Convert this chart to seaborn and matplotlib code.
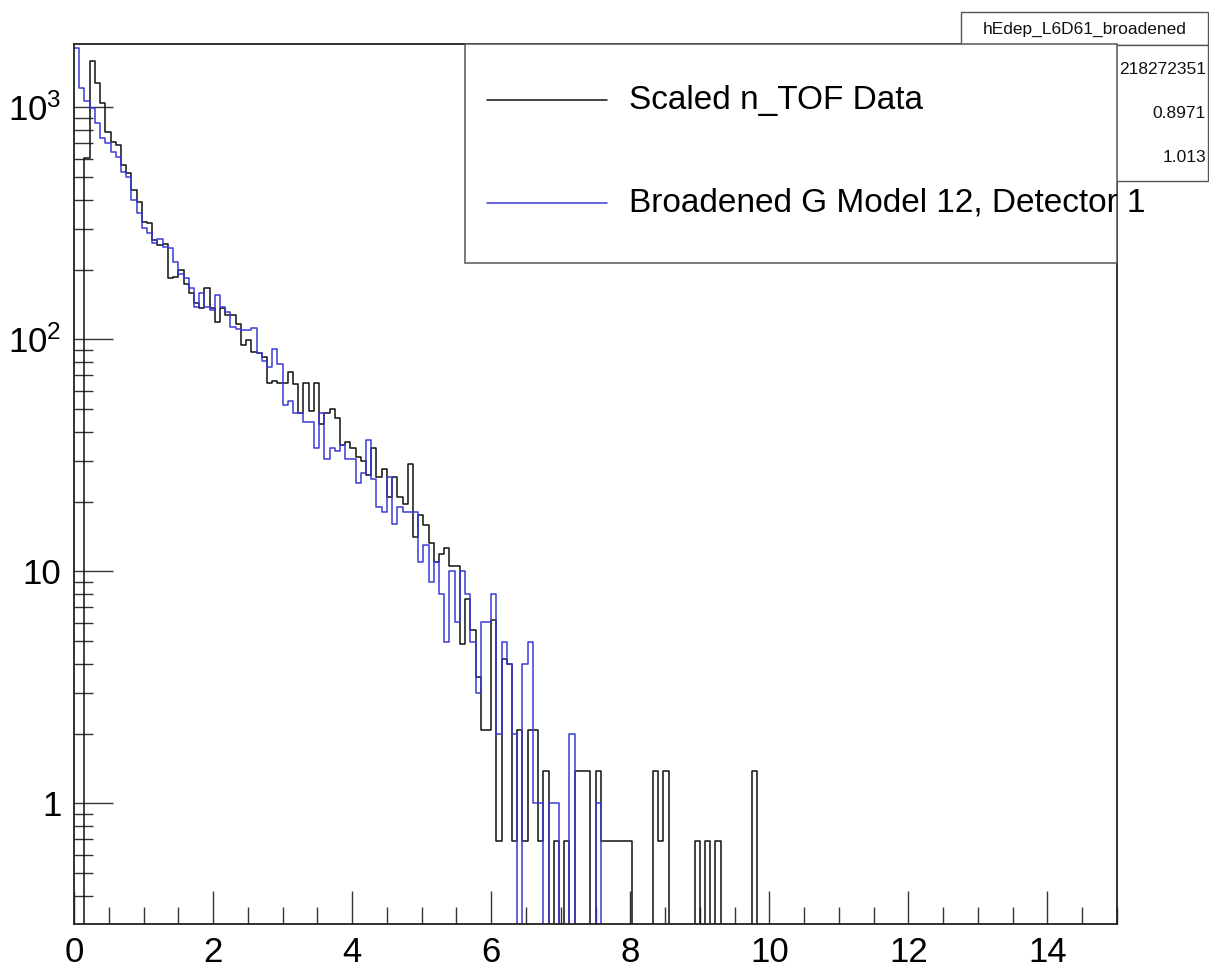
import numpy as np
import pandas as pd
import matplotlib
matplotlib.use("Agg")
import matplotlib.pyplot as plt
import seaborn as sns
from matplotlib.patches import Rectangle
from matplotlib.lines import Line2D
from matplotlib.ticker import FixedLocator, MultipleLocator, LogLocator, NullFormatter, FuncFormatter

# ---------------- data (bin contents, 0.075-wide bins starting at 0) ----------------
bin_lo = 0.0
bin_hi = 15.0
n_bins = 200

data_counts = [
    0, 0, 603, 1586, 1277, 1040, 785, 711, 687, 564,
    519, 440, 392, 321, 318, 268, 255, 257, 183, 185,
    199, 174, 158, 143, 136, 166, 136, 119, 136, 127,
    127, 117, 95, 99, 88, 87, 84, 65, 66, 65,
    65, 72, 64, 48, 65, 49, 65, 43, 48, 50,
    46, 35, 36, 34, 31, 30, 26, 34, 25.5, 27.5,
    21, 25.6, 21, 19.5, 29, 14.1, 17.5, 15.9, 13.2, 11.0,
    11.9, 12.6, 10.5, 10.5, 4.86, 7.6, 5.6, 3.5, 2.07, 2.07,
    6.2, 0.69, 4.2, 4.0, 0.69, 2.07, 0.69, 2.07, 2.07, 0.69,
    1.38, 0, 0.69, 0, 0.69, 0, 1.38, 1.38, 1.38, 0,
    1.38, 0.69, 0.69, 0.69, 0.69, 0.69, 0.69, 0, 0, 0,
    0, 1.38, 0.69, 1.38, 0, 0, 0, 0, 0, 0.69,
    0, 0.69, 0, 0.69, 0, 0, 0, 0, 0, 0,
    1.38,
]

model_counts = [
    1795, 1208, 1064, 991, 853, 735, 700, 644, 612, 527,
    502, 398, 349, 301, 288, 259, 272, 251, 247, 216,
    192, 183, 166, 138, 158, 138, 134, 155, 138, 131,
    113, 111, 110, 110, 112, 87, 81, 76, 91, 78,
    52, 54, 48, 48, 44, 44, 34, 48, 30.5, 34,
    33, 35, 30.5, 30.5, 24, 26.5, 37, 25, 19, 18,
    25.6, 16, 19, 18, 18, 18, 11.0, 13, 9.0, 11.0,
    8.0, 4.97, 10.0, 6.06, 10.0, 8.0, 4.97, 3.0, 6.06, 6.06,
    8.0, 2.0, 4.97, 4.0, 2.0, 0, 4.0, 4.97, 1.0, 1.0,
    0, 1.0, 1.0, 0, 0, 2.0, 0, 0, 0, 0,
    1.0,
]

legend_labels = ["Scaled n_TOF Data", "Broadened G Model 12, Detector 1"]
series_colors = ["#111111", "#3a3ad8"]

stats_title = "hEdep_L6D61_broadened"
stats_values = ["218272351", "0.8971", "1.013"]

x_major_ticks = [0, 2, 4, 6, 8, 10, 12, 14]
y_major_ticks = [1, 10, 100, 1000]
y_limits = (0.302, 1875)

# ---------------- style ----------------
sns.set_style("ticks")
plt.rcParams["font.family"] = ["Liberation Sans", "DejaVu Sans"]
plt.rcParams["mathtext.fontset"] = "custom"
plt.rcParams["mathtext.rm"] = "Liberation Sans"
plt.rcParams["mathtext.it"] = "Liberation Sans:italic"

W, H = 1209, 969
fig = plt.figure(figsize=(W / 100, H / 100), dpi=100)
fig.patch.set_facecolor("white")

def fx(px):
    return px / W

def fy(py):
    return 1 - py / H

ax_l, ax_r, ax_t, ax_b = 74, 1117, 44, 924
ax = fig.add_axes([fx(ax_l), fy(ax_b), fx(ax_r - ax_l), (ax_b - ax_t) / H])
ax.set_facecolor("white")

edges = np.linspace(bin_lo, bin_hi, n_bins + 1)
width = edges[1] - edges[0]
centers = edges[:-1] + width / 2

for vals, col in zip([data_counts, model_counts], series_colors):
    vals = np.asarray(vals, dtype=float)
    df = pd.DataFrame({"energy": centers[: len(vals)], "counts": vals})
    sns.histplot(data=df, x="energy", weights="counts", bins=list(edges),
                 element="step", fill=False, color=col, linewidth=1.1, ax=ax)

ax.set_yscale("log")
ax.set_xlim(bin_lo, bin_hi)
ax.set_ylim(*y_limits)
ax.set_xlabel("")
ax.set_ylabel("")

# ticks (ROOT-like: inside, bottom/left only)
ax.xaxis.set_major_locator(FixedLocator(x_major_ticks))
ax.xaxis.set_minor_locator(MultipleLocator(0.5))
ax.xaxis.set_major_formatter(FuncFormatter(lambda v, p: f"{int(round(v))}"))
ax.yaxis.set_major_locator(FixedLocator(y_major_ticks))
ax.yaxis.set_minor_locator(LogLocator(base=10, subs=np.arange(2, 10)))
ax.yaxis.set_minor_formatter(NullFormatter())

def yfmt(v, p):
    e = int(round(np.log10(v)))
    if e == 0:
        return "1"
    if e == 1:
        return "10"
    return r"$\mathregular{10^{%d}}$" % e

ax.yaxis.set_major_formatter(FuncFormatter(yfmt))

tick_col = "#333333"
ax.tick_params(axis="x", which="major", direction="in", length=24, width=1.0,
               pad=9, labelsize=25, colors=tick_col, labelcolor="black",
               top=False, bottom=True)
ax.tick_params(axis="x", which="minor", direction="in", length=12, width=1.0,
               colors=tick_col, top=False, bottom=True)
ax.tick_params(axis="y", which="major", direction="in", length=28, width=1.0,
               pad=9, labelsize=25, colors=tick_col, labelcolor="black",
               right=False, left=True)
ax.tick_params(axis="y", which="minor", direction="in", length=14, width=1.0,
               colors=tick_col, right=False, left=True)

for s in ax.spines.values():
    s.set_color("#222222")
    s.set_linewidth(1.3)
    s.set_visible(True)

# ---------------- stats box (top right, partially hidden by legend) ----------------
box_edge = "#555555"
fig.add_artist(Rectangle((fx(961), fy(45)), fx(1208 - 961), (45 - 12) / H,
                         transform=fig.transFigure, facecolor="white",
                         edgecolor=box_edge, linewidth=1.0, zorder=3))
fig.text(fx(1085), fy(29), stats_title, ha="center", va="center",
         fontsize=12.5, color="#111111", zorder=4)
fig.add_artist(Rectangle((fx(961), fy(181)), fx(1208 - 961), (181 - 45) / H,
                         transform=fig.transFigure, facecolor="white",
                         edgecolor=box_edge, linewidth=1.0, zorder=3))
for val, py in zip(stats_values, [70, 114, 157]):
    fig.text(fx(1206), fy(py), val, ha="right", va="center",
             fontsize=12.5, color="#111111", zorder=4)

# ---------------- legend box ----------------
fig.add_artist(Rectangle((fx(465), fy(263)), fx(1117 - 465), (263 - 44) / H,
                         transform=fig.transFigure, facecolor="white",
                         edgecolor=box_edge, linewidth=1.1, zorder=5))
for lab, col, py in zip(legend_labels, series_colors, [100, 203]):
    fig.add_artist(Line2D([fx(487), fx(607)], [fy(py), fy(py)],
                          transform=fig.transFigure, color=col,
                          linewidth=1.1, zorder=6))
    fig.text(fx(629), fy(py), lab, ha="left", va="center", fontsize=24,
             color="black", zorder=6)

fig.savefig("out.png", dpi=100, facecolor="white")
